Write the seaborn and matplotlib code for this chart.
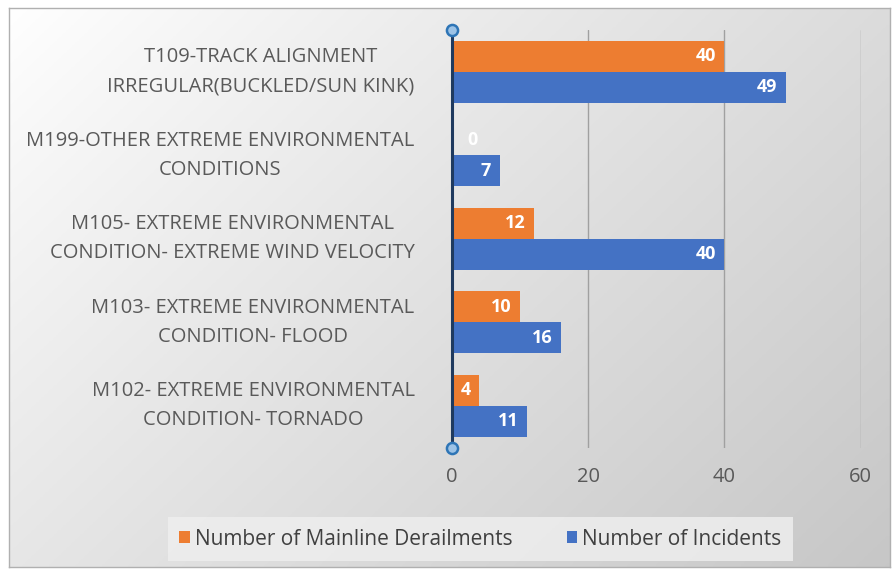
import numpy as np
import pandas as pd
import matplotlib.pyplot as plt
import seaborn as sns

# Data
CATEGORIES = [
    "T109-TRACK ALIGNMENT\nIRREGULAR(BUCKLED/SUN KINK)",
    "M199-OTHER EXTREME ENVIRONMENTAL\nCONDITIONS",
    "M105- EXTREME ENVIRONMENTAL\nCONDITION- EXTREME WIND VELOCITY",
    "M103- EXTREME ENVIRONMENTAL\nCONDITION- FLOOD",
    "M102- EXTREME ENVIRONMENTAL\nCONDITION- TORNADO",
]
DERAILMENTS = [40, 0, 12, 10, 4]
INCIDENTS = [49, 7, 40, 16, 11]
SERIES = ["Number of Mainline Derailments", "Number of Incidents"]
X_TICKS = [0, 20, 40, 60]

ORANGE = "#ED7D31"
BLUE = "#4472C4"
TEXT_GREY = "#595959"

df = pd.DataFrame({
    "category": CATEGORIES * 2,
    "value": DERAILMENTS + INCIDENTS,
    "series": [SERIES[0]] * len(CATEGORIES) + [SERIES[1]] * len(CATEGORIES),
})

sns.set_style("white")
plt.rcParams["font.family"] = ["Open Sans", "DejaVu Sans"]

fig = plt.figure(figsize=(8.96, 5.75), dpi=100)

# light grey gradient panel (white top-left -> grey bottom-right)
bg = fig.add_axes([0.01, 0.014, 0.983, 0.972], zorder=0)
gx, gy = np.meshgrid(np.linspace(0, 1, 200), np.linspace(0, 1, 200))
shade = 1.0 - 0.22 * (0.6 * gx + 0.4 * gy) ** 0.9
rgb = np.dstack([shade, shade, shade])
bg.imshow(rgb, aspect="auto", extent=[0, 1, 0, 1], origin="upper")
bg.set_xticks([])
bg.set_yticks([])
for s in bg.spines.values():
    s.set_color("#B0B0B0")
    s.set_linewidth(1.0)

ax = fig.add_axes([0.5045, 0.2217, 0.456, 0.7261], zorder=1)
ax.patch.set_alpha(0)

sns.barplot(
    data=df, y="category", x="value", hue="series", orient="h",
    palette=[ORANGE, BLUE], width=0.74, saturation=1, linewidth=0,
    ax=ax, zorder=3,
)

ax.set_xlim(0, 60)
ax.set_ylim(len(CATEGORIES) - 0.5, -0.5)
ax.set_xticks(X_TICKS)
ax.grid(axis="x", color="#A0A0A0", linewidth=1.0, zorder=0)
ax.set_xlabel("")
ax.set_ylabel("")
for s in ax.spines.values():
    s.set_visible(False)
ax.tick_params(axis="both", length=0, colors=TEXT_GREY, labelsize=14.5)
ax.tick_params(axis="y", pad=27)
ax.tick_params(axis="x", pad=14)
for lbl in ax.get_yticklabels():
    lbl.set_multialignment("center")
    lbl.set_linespacing(1.6)
    lbl.set_verticalalignment("center")

# value labels inside the bar ends
for cont in ax.containers:
    for bar in cont:
        w = bar.get_width()
        yc = bar.get_y() + bar.get_height() / 2
        if w == 0:
            ax.annotate("0", (w, yc), xytext=(15, 0), textcoords="offset points",
                        ha="center", va="center", color="white",
                        fontsize=13, fontweight="bold", zorder=5)
            continue
        ax.annotate(
            f"{w:.0f}", (w, yc),
            xytext=(-6, 0), textcoords="offset points",
            ha="right", va="center", color="white",
            fontsize=13, fontweight="bold", zorder=5,
        )

# selected-axis look: dark line with light circle handles
ax.plot([0, 0], [0, 1], transform=ax.get_xaxis_transform(), color="#1F3A5F",
        linewidth=2.2, marker="o", markersize=8, markerfacecolor="#9DC3E6",
        markeredgecolor="#2E75B6", markeredgewidth=1.8, clip_on=False, zorder=6)

handles, labels = ax.get_legend_handles_labels()
ax.get_legend().remove()
leg = fig.legend(
    handles, labels, loc="center", bbox_to_anchor=(0.536, 0.0626), ncol=2,
    fontsize=15, frameon=True, fancybox=False, handlelength=0.5,
    handleheight=0.5, handletextpad=0.25, columnspacing=2.6,
    borderpad=0.55, borderaxespad=0, labelcolor="#404040",
)
leg.get_frame().set_facecolor("#EEEEEE")
leg.get_frame().set_edgecolor("none")
leg.get_frame().set_alpha(0.85)

fig.savefig("out.png", dpi=100)
